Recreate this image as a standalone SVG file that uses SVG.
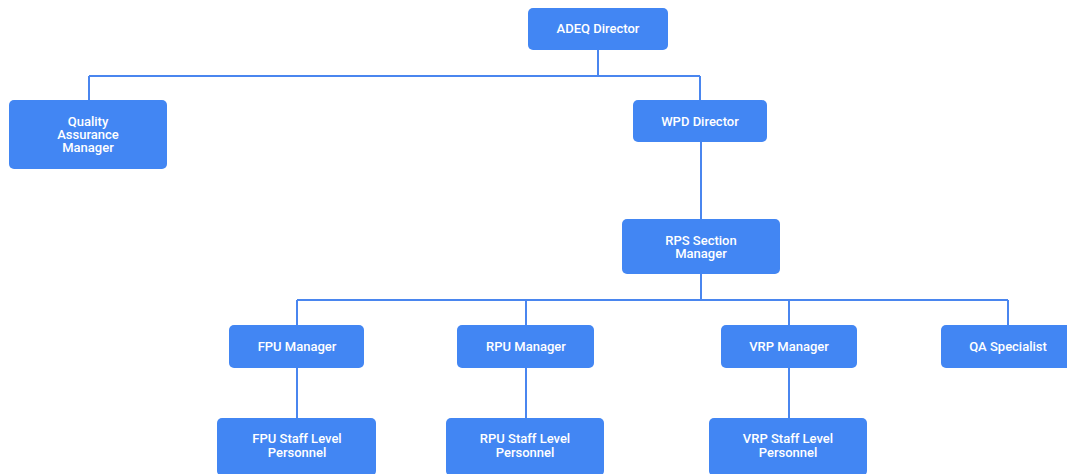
<svg xmlns="http://www.w3.org/2000/svg" width="1067" height="474" viewBox="0 0 1067 474">
<style>
.n rect{fill:#4286f3;}
.n text{fill:#fff;font-family:Roboto,"Liberation Sans",sans-serif;font-size:13px;font-weight:500;text-anchor:middle;}
.c path{fill:none;stroke:#4a86ef;stroke-width:2;}
</style>
<rect width="1067" height="474" fill="#fff"/>
<g class="c" id="connectors">
<path d="M598 50V76M89 76H700M89 76V100M700 76V100"/>
<path d="M701 142V219"/>
<path d="M701 274V300M297 300H1008M297 300V325M526 300V325M789 300V325M1008 300V325"/>
<path d="M297 368V418M526 368V418M789 368V418"/>
</g>
<g class="n" id="adeq"><rect x="528" y="8" width="140" height="42" rx="5"/><text x="598" y="33">ADEQ Director</text></g>
<g class="n" id="qam"><rect x="9" y="100" width="158" height="69" rx="5"/><text x="88" y="126">Quality</text><text x="88" y="139">Assurance</text><text x="88" y="152">Manager</text></g>
<g class="n" id="wpd"><rect x="633" y="100" width="134" height="42" rx="5"/><text x="700" y="126">WPD Director</text></g>
<g class="n" id="rps"><rect x="622" y="219" width="158" height="55" rx="5"/><text x="701" y="245">RPS Section</text><text x="701" y="258">Manager</text></g>
<g class="n" id="fpu"><rect x="229" y="325" width="135" height="43" rx="5"/><text x="297" y="351">FPU Manager</text></g>
<g class="n" id="rpu"><rect x="457" y="325" width="137" height="43" rx="5"/><text x="526" y="351">RPU Manager</text></g>
<g class="n" id="vrp"><rect x="721" y="325" width="136" height="43" rx="5"/><text x="789" y="351">VRP Manager</text></g>
<g class="n" id="qas"><rect x="941" y="325" width="134" height="43" rx="5"/><text x="1008" y="351">QA Specialist</text></g>
<g class="n" id="fpus"><rect x="217" y="418" width="159" height="58" rx="5"/><text x="297" y="443">FPU Staff Level</text><text x="297" y="457">Personnel</text></g>
<g class="n" id="rpus"><rect x="446" y="418" width="158" height="58" rx="5"/><text x="525" y="443">RPU Staff Level</text><text x="525" y="457">Personnel</text></g>
<g class="n" id="vrps"><rect x="709" y="418" width="158" height="58" rx="5"/><text x="788" y="443">VRP Staff Level</text><text x="788" y="457">Personnel</text></g>
</svg>
